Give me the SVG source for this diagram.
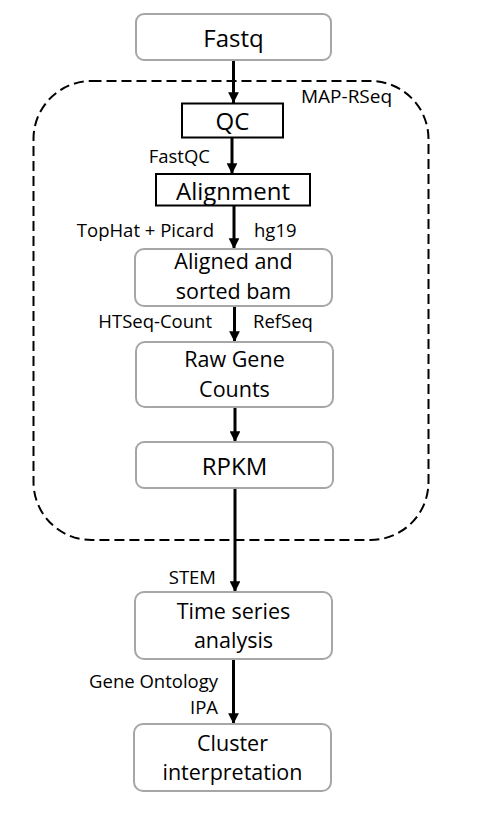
<svg xmlns="http://www.w3.org/2000/svg" width="477" height="838" viewBox="0 0 477 838">
<style>
.bg{fill:#fff}
.rbox{fill:#fff;stroke:#a6a6a6;stroke-width:2}
.sbox{fill:#fff;stroke:#000;stroke-width:2}
.big{font-family:"Open Sans","Liberation Sans",sans-serif;font-size:24px;fill:#000;text-anchor:middle}
.mid{font-family:"Open Sans","Liberation Sans",sans-serif;font-size:21.5px;fill:#000;text-anchor:middle}
.lbl{font-family:"Open Sans","Liberation Sans",sans-serif;font-size:18.5px;fill:#000}
.end{text-anchor:end}
.conn{stroke:#000;stroke-width:3;fill:none;marker-end:url(#ah)}
.group{fill:none;stroke:#000;stroke-width:2;stroke-dasharray:10 5}
</style>
<defs>
<marker id="ah" viewBox="0 0 10 10" refX="10" refY="5" markerWidth="3.6" markerHeight="3.6" orient="auto" markerUnits="strokeWidth">
<path d="M0,0 L10,5 L0,10 Z" fill="#000"/>
</marker>
</defs>
<rect class="bg" x="0" y="0" width="477" height="838"/>
<g id="map-rseq">
<rect class="group" x="33.5" y="81" width="395" height="459" rx="58" ry="58"/>
<text class="lbl" x="301" y="103" style="font-size:19px">MAP-RSeq</text>
</g>
<g id="connectors">
<line class="conn" x1="233.5" y1="60" x2="233.5" y2="103"/>
<line class="conn" x1="232" y1="138" x2="232" y2="174"/>
<line class="conn" x1="234" y1="206" x2="234" y2="249"/>
<line class="conn" x1="234.5" y1="307" x2="234.5" y2="342"/>
<line class="conn" x1="235" y1="408" x2="235" y2="442"/>
<line class="conn" x1="235" y1="489" x2="235" y2="592"/>
<line class="conn" x1="233.5" y1="660" x2="233.5" y2="724"/>
<text class="lbl end" x="210" y="163">FastQC</text>
<text class="lbl end" x="214" y="237">TopHat + Picard</text>
<text class="lbl" x="254" y="237">hg19</text>
<text class="lbl end" x="212" y="328">HTSeq-Count</text>
<text class="lbl" x="253" y="328">RefSeq</text>
<text class="lbl end" x="216" y="584">STEM</text>
<text class="lbl end" x="218" y="688">Gene Ontology</text>
<text class="lbl end" x="218" y="714">IPA</text>
</g>
<g id="fastq">
<rect class="rbox" x="136" y="14" width="195" height="46" rx="8"/>
<text class="big" x="233.5" y="47">Fastq</text>
</g>
<g id="qc">
<rect class="sbox" x="182" y="103.5" width="101" height="34"/>
<text class="big" x="232.5" y="130">QC</text>
</g>
<g id="alignment">
<rect class="sbox" x="156" y="174" width="154" height="31.5"/>
<text class="big" x="233" y="200">Alignment</text>
</g>
<g id="aligned-bam">
<rect class="rbox" x="135" y="249" width="197" height="57" rx="9"/>
<text class="mid" x="233.5" y="269">Aligned and</text>
<text class="mid" x="233.5" y="299">sorted bam</text>
</g>
<g id="raw-counts">
<rect class="rbox" x="136" y="342" width="197" height="65" rx="9"/>
<text class="mid" x="234.5" y="367">Raw Gene</text>
<text class="mid" x="234.5" y="397">Counts</text>
</g>
<g id="rpkm">
<rect class="rbox" x="136" y="442" width="197" height="46" rx="8"/>
<text class="big" x="234.5" y="475">RPKM</text>
</g>
<g id="time-series">
<rect class="rbox" x="135" y="592" width="197" height="67" rx="9"/>
<text class="mid" x="233.5" y="619">Time series</text>
<text class="mid" x="233.5" y="648">analysis</text>
</g>
<g id="cluster">
<rect class="rbox" x="134" y="724" width="197" height="67" rx="9"/>
<text class="mid" x="232.5" y="751">Cluster</text>
<text class="mid" x="232.5" y="780">interpretation</text>
</g>
</svg>
